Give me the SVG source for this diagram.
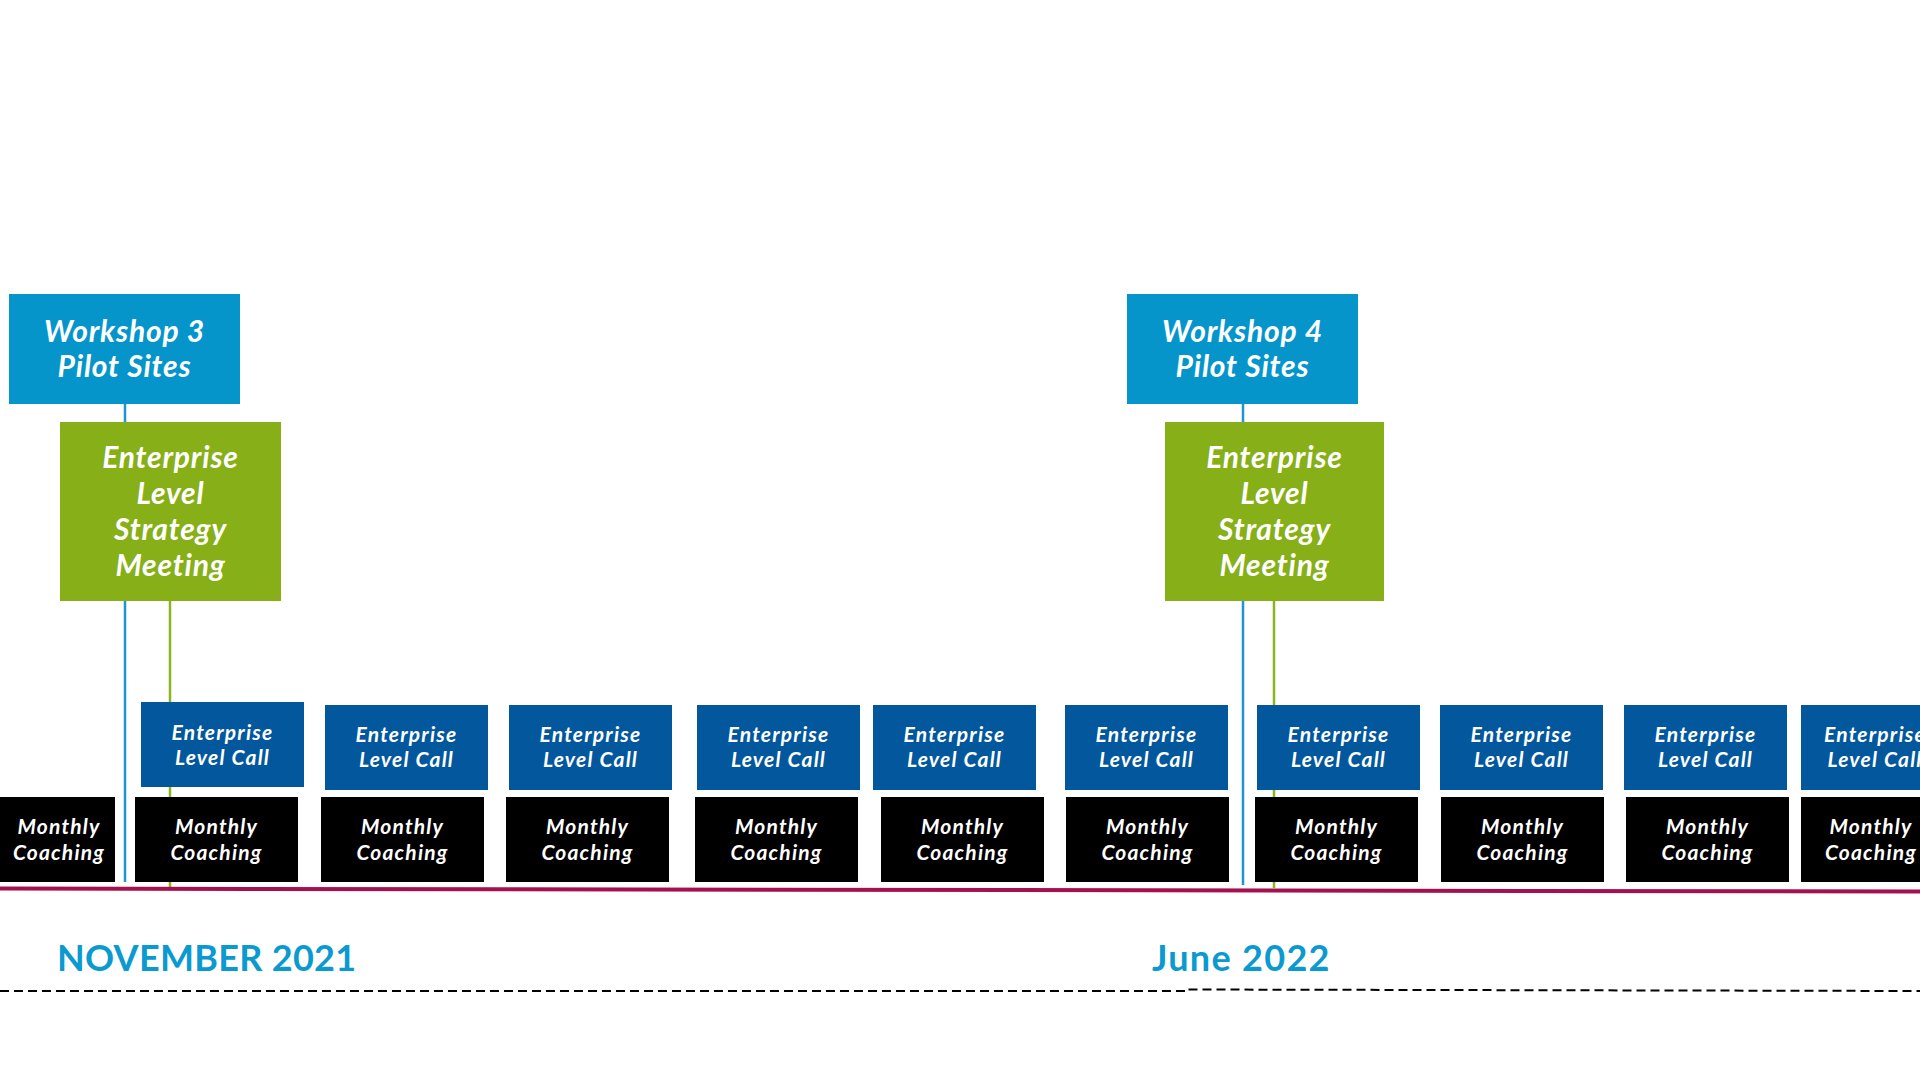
<svg xmlns="http://www.w3.org/2000/svg" width="1920" height="1080" viewBox="0 0 1920 1080">
<style>
.t{font-family:Lato,"Open Sans","Liberation Sans",sans-serif;font-weight:700;font-style:italic;fill:#fff;text-anchor:middle}
.big{font-size:30px;letter-spacing:0.8px}
.sm{font-size:21px;letter-spacing:1.2px}
.ws{fill:#0595CB}
.gr{fill:#86AF18}
.elc{fill:#02579D}
.mc{fill:#000}
.date{font-family:Lato,"Open Sans","Liberation Sans",sans-serif;font-weight:700;font-size:36px;fill:#0A9AD0}
</style>
<rect width="1920" height="1080" fill="#fff"/>
<g id="connectors">
<line x1="125" y1="404" x2="125" y2="882" stroke="#1E95D0" stroke-width="2.5"/>
<line x1="170" y1="601" x2="170" y2="887" stroke="#8DB31E" stroke-width="2.5"/>
<line x1="1243" y1="404" x2="1243" y2="885" stroke="#1E95D0" stroke-width="2.5"/>
<line x1="1274" y1="601" x2="1274" y2="888" stroke="#8DB31E" stroke-width="2.5"/>
<line x1="0" y1="888.5" x2="1920" y2="891.5" stroke="#A6104F" stroke-width="4"/>
<polyline points="0,991 1188,991 1188,989.5 1920,991" fill="none" stroke="#000" stroke-width="2" stroke-dasharray="9,5"/>
</g>
<g id="workshop3"><rect class="ws" x="9" y="294" width="231" height="110"/><text class="t big" x="124.5" y="342">Workshop 3</text><text class="t big" x="124.5" y="377">Pilot Sites</text></g>
<g id="strategy1"><rect class="gr" x="60" y="422" width="221" height="179"/><text class="t big" x="170.5" y="468">Enterprise</text><text class="t big" x="170.5" y="504">Level</text><text class="t big" x="170.5" y="540">Strategy</text><text class="t big" x="170.5" y="576">Meeting</text></g>
<g id="workshop4"><rect class="ws" x="1127" y="294" width="231" height="110"/><text class="t big" x="1242.5" y="342">Workshop 4</text><text class="t big" x="1242.5" y="377">Pilot Sites</text></g>
<g id="strategy2"><rect class="gr" x="1165" y="422" width="219" height="179"/><text class="t big" x="1274.5" y="468">Enterprise</text><text class="t big" x="1274.5" y="504">Level</text><text class="t big" x="1274.5" y="540">Strategy</text><text class="t big" x="1274.5" y="576">Meeting</text></g>
<g id="elc1"><rect class="elc" x="141" y="702" width="163" height="85"/><text class="t sm" x="222.5" y="740">Enterprise</text><text class="t sm" x="222.5" y="765">Level Call</text></g>
<g id="elc2"><rect class="elc" x="325" y="705" width="163" height="85"/><text class="t sm" x="406.5" y="742">Enterprise</text><text class="t sm" x="406.5" y="767">Level Call</text></g>
<g id="elc3"><rect class="elc" x="509" y="705" width="163" height="85"/><text class="t sm" x="590.5" y="742">Enterprise</text><text class="t sm" x="590.5" y="767">Level Call</text></g>
<g id="elc4"><rect class="elc" x="697" y="705" width="163" height="85"/><text class="t sm" x="778.5" y="742">Enterprise</text><text class="t sm" x="778.5" y="767">Level Call</text></g>
<g id="elc5"><rect class="elc" x="873" y="705" width="163" height="85"/><text class="t sm" x="954.5" y="742">Enterprise</text><text class="t sm" x="954.5" y="767">Level Call</text></g>
<g id="elc6"><rect class="elc" x="1065" y="705" width="163" height="85"/><text class="t sm" x="1146.5" y="742">Enterprise</text><text class="t sm" x="1146.5" y="767">Level Call</text></g>
<g id="elc7"><rect class="elc" x="1257" y="705" width="163" height="85"/><text class="t sm" x="1338.5" y="742">Enterprise</text><text class="t sm" x="1338.5" y="767">Level Call</text></g>
<g id="elc8"><rect class="elc" x="1440" y="705" width="163" height="85"/><text class="t sm" x="1521.5" y="742">Enterprise</text><text class="t sm" x="1521.5" y="767">Level Call</text></g>
<g id="elc9"><rect class="elc" x="1624" y="705" width="163" height="85"/><text class="t sm" x="1705.5" y="742">Enterprise</text><text class="t sm" x="1705.5" y="767">Level Call</text></g>
<g id="elc10"><rect class="elc" x="1801" y="705" width="163" height="85"/><text class="t sm" x="1875" y="742">Enterprise</text><text class="t sm" x="1875" y="767">Level Call</text></g>
<g id="mc1"><rect class="mc" x="0" y="797" width="115" height="85"/><text class="t sm" x="59" y="834">Monthly</text><text class="t sm" x="59" y="860">Coaching</text></g>
<g id="mc2"><rect class="mc" x="135" y="797" width="163" height="85"/><text class="t sm" x="216.5" y="834">Monthly</text><text class="t sm" x="216.5" y="860">Coaching</text></g>
<g id="mc3"><rect class="mc" x="321" y="797" width="163" height="85"/><text class="t sm" x="402.5" y="834">Monthly</text><text class="t sm" x="402.5" y="860">Coaching</text></g>
<g id="mc4"><rect class="mc" x="506" y="797" width="163" height="85"/><text class="t sm" x="587.5" y="834">Monthly</text><text class="t sm" x="587.5" y="860">Coaching</text></g>
<g id="mc5"><rect class="mc" x="695" y="797" width="163" height="85"/><text class="t sm" x="776.5" y="834">Monthly</text><text class="t sm" x="776.5" y="860">Coaching</text></g>
<g id="mc6"><rect class="mc" x="881" y="797" width="163" height="85"/><text class="t sm" x="962.5" y="834">Monthly</text><text class="t sm" x="962.5" y="860">Coaching</text></g>
<g id="mc7"><rect class="mc" x="1066" y="797" width="163" height="85"/><text class="t sm" x="1147.5" y="834">Monthly</text><text class="t sm" x="1147.5" y="860">Coaching</text></g>
<g id="mc8"><rect class="mc" x="1255" y="797" width="163" height="85"/><text class="t sm" x="1336.5" y="834">Monthly</text><text class="t sm" x="1336.5" y="860">Coaching</text></g>
<g id="mc9"><rect class="mc" x="1441" y="797" width="163" height="85"/><text class="t sm" x="1522.5" y="834">Monthly</text><text class="t sm" x="1522.5" y="860">Coaching</text></g>
<g id="mc10"><rect class="mc" x="1626" y="797" width="163" height="85"/><text class="t sm" x="1707.5" y="834">Monthly</text><text class="t sm" x="1707.5" y="860">Coaching</text></g>
<g id="mc11"><rect class="mc" x="1801" y="797" width="163" height="85"/><text class="t sm" x="1871" y="834">Monthly</text><text class="t sm" x="1871" y="860">Coaching</text></g>
<g id="dates">
<text class="date" x="57" y="971" style="letter-spacing:0.3px">NOVEMBER 2021</text>
<text class="date" x="1152" y="971" style="letter-spacing:1.3px">June 2022</text>
</g>
</svg>
